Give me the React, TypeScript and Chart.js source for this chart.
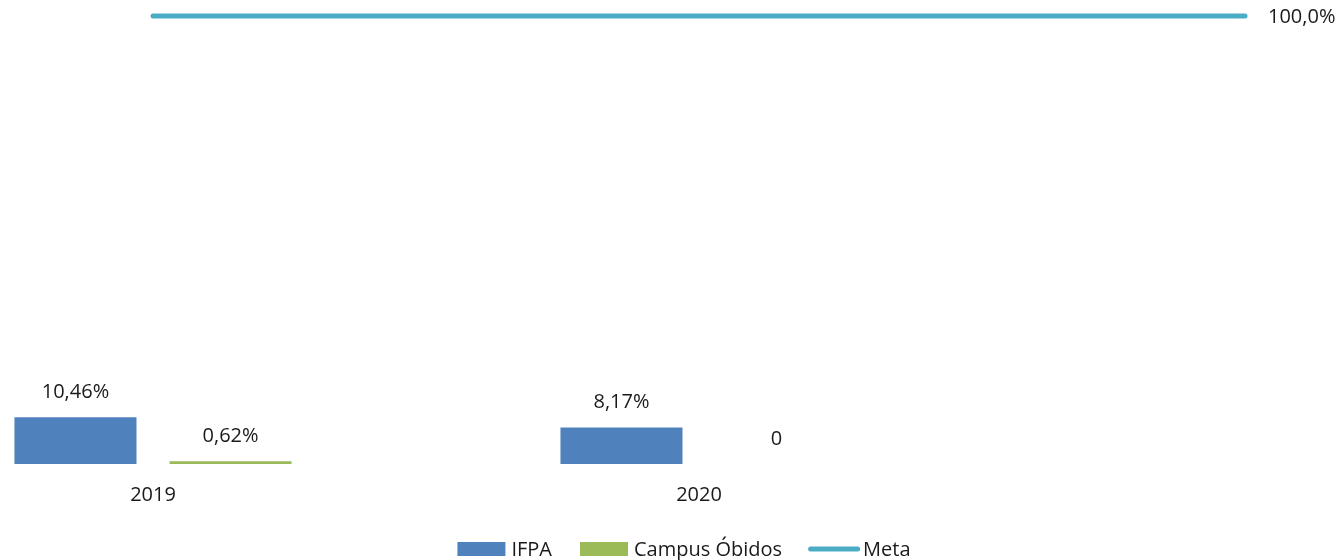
import React, { useEffect, useRef } from "react";
import { Chart, registerables } from "chart.js";

Chart.register(...registerables);

const categories = ["2019", "2020", ""];
const ifpaValues: (number | null)[] = [10.46, 8.17, null];
const campusValues: (number | null)[] = [0.62, 0, null];
const metaValues = [100, 100, 100];
const seriesNames = ["IFPA", "Campus Óbidos", "Meta"];
const seriesColors = ["#4F81BD", "#9BBB59", "#4BACC6"];

const FONT = "'Open Sans', 'Liberation Sans', sans-serif";
const FONT_SIZE = 20;
const TEXT_COLOR = "#1a1a1a";

function fmtBar(v: number) {
  if (v === 0) return "0";
  return v.toFixed(2).replace(".", ",") + "%";
}
function fmtMeta(v: number) {
  return v.toFixed(1).replace(".", ",") + "%";
}

const labelsPlugin = {
  id: "valueLabels",
  afterDatasetsDraw(chart: any) {
    const ctx = chart.ctx;
    ctx.save();
    ctx.font = `${FONT_SIZE}px ${FONT}`;
    ctx.fillStyle = TEXT_COLOR;
    ctx.textBaseline = "middle";
    chart.data.datasets.forEach((ds: any, di: number) => {
      const meta = chart.getDatasetMeta(di);
      meta.data.forEach((el: any, i: number) => {
        const v = ds.data[i];
        if (v === null || v === undefined) return;
        if (ds.type === "line") {
          if (i !== ds.data.length - 1) return;
          ctx.textAlign = "left";
          ctx.fillText(fmtMeta(v), el.x + 23, el.y + 1);
        } else {
          ctx.textAlign = "center";
          ctx.fillText(fmtBar(v), el.x, el.y - 25);
        }
      });
    });
    ctx.restore();
  },
};

const legendPlugin = {
  id: "customLegend",
  afterDraw(chart: any) {
    const ctx = chart.ctx;
    ctx.save();
    ctx.font = `${FONT_SIZE}px ${FONT}`;
    const boxW = [48, 48, 52];
    const boxH = 14;
    const gaps = [6, 6, 3];
    const spacings = [28, 26];
    const widths = seriesNames.map((n, i) => boxW[i] + gaps[i] + ctx.measureText(n).width);
    const total = widths.reduce((a, b) => a + b, 0) + spacings[0] + spacings[1];
    const centerX = 684;
    const cy = 549;
    let x = centerX - total / 2;
    seriesNames.forEach((name, i) => {
      if (i === 2) {
        ctx.strokeStyle = seriesColors[i];
        ctx.lineWidth = 5;
        ctx.lineCap = "round";
        ctx.beginPath();
        ctx.moveTo(x + 2.5, cy);
        ctx.lineTo(x + boxW[i] - 2.5, cy);
        ctx.stroke();
      } else {
        ctx.fillStyle = seriesColors[i];
        ctx.fillRect(x, cy - boxH / 2, boxW[i], boxH);
      }
      ctx.fillStyle = TEXT_COLOR;
      ctx.textAlign = "left";
      ctx.textBaseline = "middle";
      ctx.fillText(name, x + boxW[i] + gaps[i], cy + 1);
      x += widths[i] + (spacings[i] || 0);
    });
    ctx.restore();
  },
};

export default function App() {
  const ref = useRef<HTMLCanvasElement | null>(null);
  useEffect(() => {
    if (!ref.current) return;
    const chart = new Chart(ref.current, {
      type: "bar",
      data: {
        labels: categories,
        datasets: [
          {
            type: "bar",
            label: seriesNames[0],
            data: ifpaValues,
            backgroundColor: seriesColors[0],
            categoryPercentage: 0.568,
            barPercentage: 0.787,
            clip: false,
            order: 2,
          } as any,
          {
            type: "bar",
            label: seriesNames[1],
            data: campusValues,
            backgroundColor: seriesColors[1],
            categoryPercentage: 0.568,
            barPercentage: 0.787,
            clip: false,
            order: 2,
          } as any,
          {
            type: "line",
            label: seriesNames[2],
            data: metaValues,
            borderColor: seriesColors[2],
            backgroundColor: seriesColors[2],
            borderWidth: 5,
            borderCapStyle: "round",
            pointRadius: 0,
            clip: false,
            order: 1,
          } as any,
        ],
      },
      options: {
        responsive: false,
        animation: false,
        layout: { padding: { left: 153, right: 99, top: 16, bottom: 0 } },
        plugins: {
          legend: { display: false },
          tooltip: { enabled: false },
        },
        scales: {
          x: {
            type: "category",
            offset: false,
            grid: { display: false, drawTicks: false },
            border: { display: false },
            ticks: {
              font: { family: FONT, size: FONT_SIZE },
              color: TEXT_COLOR,
              padding: 19,
              maxRotation: 0,
              autoSkip: false,
            },
            afterFit(scale: any) {
              scale.height = 96;
            },
          },
          y: {
            display: false,
            min: 0,
            max: 100,
          },
        },
      },
      plugins: [labelsPlugin, legendPlugin],
    });
    return () => chart.destroy();
  }, []);
  return (
    <div style={{ position: "absolute", left: 0, top: 0, width: 1344, height: 560 }}>
      <canvas ref={ref} width={1344} height={560} />
    </div>
  );
}
